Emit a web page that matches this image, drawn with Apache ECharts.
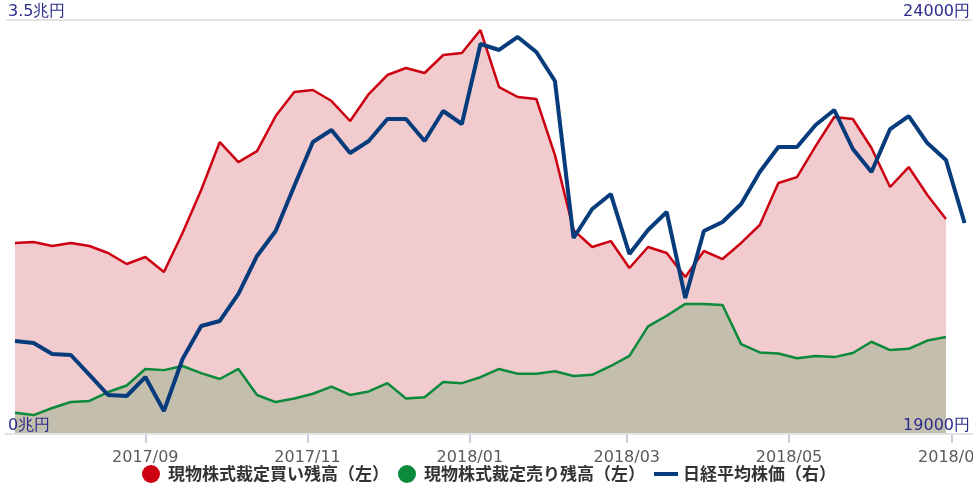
<!DOCTYPE html>
<html><head><meta charset="utf-8">
<script src="https://cdn.jsdelivr.net/npm/echarts@6/dist/echarts.min.js"></script>
<style>html,body{margin:0;padding:0;background:#fff}#c{width:973px;height:486px}</style>
</head><body><div id="c"></div>
<script>
const dates = ['2017-07-14','2017-07-21','2017-07-28','2017-08-04','2017-08-11','2017-08-18','2017-08-25','2017-09-01','2017-09-08','2017-09-15','2017-09-22','2017-09-29','2017-10-06','2017-10-13','2017-10-20','2017-10-27','2017-11-03','2017-11-10','2017-11-17','2017-11-24','2017-12-01','2017-12-08','2017-12-15','2017-12-22','2017-12-29','2018-01-05','2018-01-12','2018-01-19','2018-01-26','2018-02-02','2018-02-09','2018-02-16','2018-02-23','2018-03-02','2018-03-09','2018-03-16','2018-03-23','2018-03-30','2018-04-06','2018-04-13','2018-04-20','2018-04-27','2018-05-04','2018-05-11','2018-05-18','2018-05-25','2018-06-01','2018-06-08','2018-06-15','2018-06-22','2018-06-29','2018-07-06'];
const buyBalance = [1.615,1.623,1.589,1.615,1.589,1.53,1.437,1.496,1.369,1.70,2.063,2.468,2.299,2.392,2.688,2.891,2.908,2.815,2.646,2.874,3.035,3.094,3.052,3.204,3.221,3.415,2.933,2.849,2.832,2.358,1.724,1.581,1.631,1.403,1.581,1.53,1.327,1.547,1.479,1.615,1.767,2.122,2.172,2.434,2.68,2.663,2.418,2.088,2.257,2.02,1.817];
const sellBalance = [0.18,0.16,0.22,0.27,0.28,0.355,0.41,0.55,0.54,0.575,0.515,0.465,0.55,0.33,0.27,0.30,0.34,0.40,0.33,0.36,0.43,0.30,0.31,0.44,0.43,0.48,0.55,0.51,0.51,0.53,0.49,0.50,0.575,0.66,0.91,1.00,1.10,1.10,1.09,0.76,0.69,0.68,0.64,0.66,0.65,0.685,0.78,0.71,0.72,0.79,0.82];
const nikkei = [20123,20099,19966,19954,19713,19471,19459,19688,19278,19906,20304,20365,20691,21150,21452,21995,22527,22671,22394,22539,22804,22804,22539,22901,22744,23710,23638,23795,23613,23263,21367,21717,21898,21174,21464,21681,20642,21452,21560,21778,22164,22466,22466,22732,22913,22442,22164,22683,22840,22514,22309,21548];
const monthTicks = ['2017-09-01','2017-11-01','2018-01-01','2018-03-01','2018-05-01','2018-07-01'];
const seriesNames = ['現物株式裁定買い残高（左）','現物株式裁定売り残高（左）','日経平均株価（右）'];
const leftAxisLabels = ['0兆円','3.5兆円'];
const rightAxisLabels = ['19000円','24000円'];

function ts(s, h){ const p=s.split('-').map(Number); return new Date(p[0],p[1]-1,p[2],h||0).getTime(); }
const pair = arr => arr.map((v,i)=>[ts(dates[i]), v]);
const tickVals = monthTicks.map(s=>ts(s));

const chart = echarts.init(document.getElementById('c'));
chart.setOption({
  animation:false,
  grid:{left:6,right:1,top:20,bottom:52,containLabel:false,outerBoundsMode:'none'},
  xAxis:{
    type:'value',
    min: ts('2017-07-10',15),
    max: ts('2018-07-08',19),
    axisLine:{show:true,lineStyle:{color:'#c6cfe2',width:2}},
    axisTick:{show:true,customValues:tickVals,length:9,lineStyle:{color:'#c6cfe2',width:2}},
    axisLabel:{customValues:tickVals,color:'#5a5a5a',fontSize:16,fontFamily:'DejaVu Sans',margin:16,hideOverlap:false,
      formatter:v=>{const d=new Date(v);return d.getFullYear()+'/'+String(d.getMonth()+1).padStart(2,'0');}},
    splitLine:{show:false}
  },
  yAxis:[
    {type:'value',min:0,max:3.5,interval:3.5,z:10,
     axisLine:{show:false},axisTick:{show:false},
     splitLine:{show:true,lineStyle:{color:'#e3e3e3',width:2}},
     axisLabel:{inside:true,margin:2,verticalAlign:'bottom',color:'#2b2b8c',fontSize:16,fontFamily:'DejaVu Sans',
       formatter:v=>v===0?leftAxisLabels[0]:leftAxisLabels[1]}},
    {type:'value',min:19000,max:24000,interval:5000,position:'right',z:10,
     axisLine:{show:false},axisTick:{show:false},splitLine:{show:false},
     axisLabel:{inside:true,margin:2,verticalAlign:'bottom',color:'#2b2b8c',fontSize:16,fontFamily:'DejaVu Sans',
       formatter:v=>v===19000?rightAxisLabels[0]:rightAxisLabels[1]}}
  ],
  legend:{
    top:465,left:142,itemWidth:24,itemHeight:18,itemGap:9,symbolKeepAspect:true,padding:0,
    textStyle:{fontSize:17,fontWeight:'bold',color:'#333',fontFamily:'Noto Sans CJK JP'},
    data:[
      {name:seriesNames[0],icon:'circle',itemStyle:{color:'#cc0011'}},
      {name:seriesNames[1],icon:'circle',itemStyle:{color:'#0a8a3a'}},
      {name:seriesNames[2],icon:'path://M0,0 L24,0 L24,4 L0,4 Z',itemStyle:{color:'#063b7c'}}
    ]
  },
  series:[
    {name:seriesNames[0],type:'line',yAxisIndex:0,data:pair(buyBalance),symbol:'none',
     lineStyle:{color:'#cc0011',width:2.5},itemStyle:{color:'#cc0011'},areaStyle:{color:'#f2cbcf',opacity:1},z:2},
    {name:seriesNames[1],type:'line',yAxisIndex:0,data:pair(sellBalance),symbol:'none',
     lineStyle:{color:'#0a8a3a',width:2.5},itemStyle:{color:'#0a8a3a'},areaStyle:{color:'#c4bead',opacity:1},z:3},
    {name:seriesNames[2],type:'line',yAxisIndex:1,data:pair(nikkei),symbol:'none',
     lineStyle:{color:'#063b7c',width:4},itemStyle:{color:'#063b7c'},z:4}
  ]
});
</script></body></html>
